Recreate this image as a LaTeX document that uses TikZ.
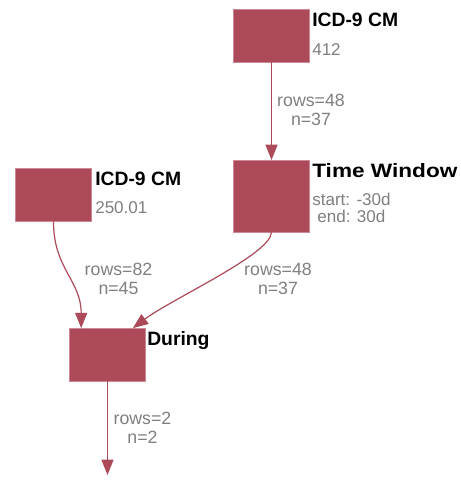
\documentclass[tikz,border=0pt]{standalone}
\usepackage{fontspec}
\setmainfont{Liberation Sans}
\usetikzlibrary{calc, arrows.meta}
\definecolor{boxred}{HTML}{AC4A5A}
\definecolor{boxedge}{HTML}{CC8894}
\definecolor{labelgray}{HTML}{7F7F7F}

\begin{document}
\begin{tikzpicture}[x=0.75pt, y=-0.75pt,
        box/.style={fill=boxred, draw=boxedge, line width=0.5pt, inner sep=0pt, outer sep=0pt,
            minimum width=57.5pt, minimum height=39.5pt},
        title/.style={anchor=north west, inner sep=0pt, font=\bfseries\fontsize{14.5}{16}\selectfont},
        detail/.style={anchor=north west, inner sep=0pt, text=labelgray, align=center,
            font=\fontsize{12.8}{12.8}\selectfont},
        count/.style={text=labelgray, align=center, inner sep=0pt, font=\fontsize{13.3}{14.2}\selectfont},
        flow/.style={draw=boxred, line width=0.9pt, -{Triangle[length=11.5pt, width=9pt]}}]
    \useasboundingbox (0,0) rectangle (461,480);
    % boxes
    \node[box] (icdtop) at (271.5,35.5) {};
    \node[box, minimum height=54pt] (window) at (271.5,196) {};
    \node[box] (icdleft) at (53.5,195) {};
    \node[box] (during) at (107.5,354.5) {};
    % labels next to the boxes
    \node[title] (icdtopname) at (312,13) {ICD-9 CM};
    \node[detail] (icdtopcode) at (312,43) {412};
    \node[title, transform shape, xscale=1.17] (windowname) at (312,163) {Time Window};
    \node[detail] (windowspan) at (312,193) {start: -30d\\ end: 30d};
    \node[title] (icdleftname) at (95,172) {ICD-9 CM};
    \node[detail] (icdleftcode) at (95,201) {250.01};
    \node[title] (duringname) at (147,331) {During};
    % connectors
    \coordinate (duringin1) at ($(during.north west)+(12,0)$);
    \coordinate (duringin2) at ($(during.north east)+(-13,0)$);
    \coordinate (result) at (107.5,475);
    \draw[flow] (icdtop) -- (window);
    \draw[flow] (icdleft.south) .. controls ($(icdleft.south)+(0,48)$) and ($(duringin1)+(0,-48)$) .. (duringin1);
    \draw[flow] (window.south) .. controls ($(window.south)+(0,22)$) and ($(duringin2)+(40,-30)$) .. (duringin2);
    \draw[flow] (during) -- (result);
    % counts on the connectors
    \node[count] (c1) at (311,110) {rows=48\\n=37};
    \node[count] (c2) at (118.5,279) {rows=82\\n=45};
    \node[count] (c3) at (278,279) {rows=48\\n=37};
    \node[count] (c4) at (142.5,428) {rows=2\\n=2};
\end{tikzpicture}
\end{document}
